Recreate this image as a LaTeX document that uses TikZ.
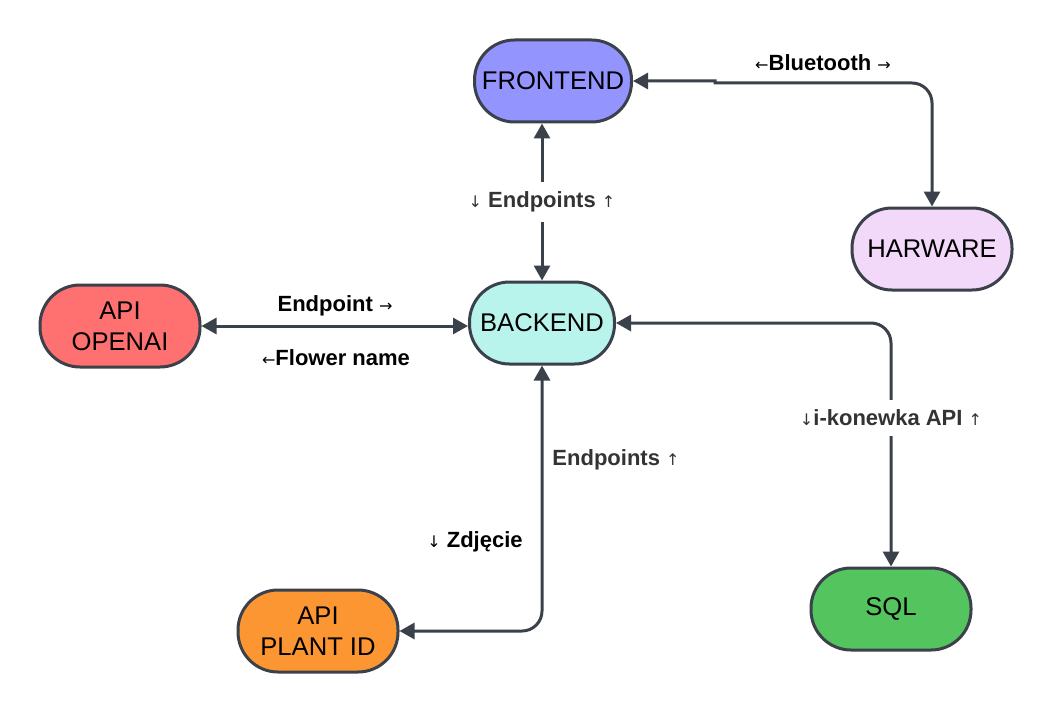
\documentclass[tikz,border=0pt]{standalone}
\usepackage{fontspec}
\setmainfont{Liberation Sans}
\newfontfamily\arrowfont{DejaVu Sans}
\usetikzlibrary{arrows.meta,calc}

\definecolor{edgegray}{HTML}{3A414A}
\definecolor{labelgray}{HTML}{333333}
\definecolor{frontblue}{HTML}{9494FF}
\definecolor{backcyan}{HTML}{B8F4EC}
\definecolor{hardlilac}{HTML}{F2D9FA}
\definecolor{openred}{HTML}{FF7070}
\definecolor{plantorange}{HTML}{FC9632}
\definecolor{sqlgreen}{HTML}{54C45E}

\newcommand{\arw}[1]{{\arrowfont\mdseries\fontsize{8}{10}\selectfont #1}}

\begin{document}
\begin{tikzpicture}[x=0.5pt,y=-0.5pt,
  box/.style={draw=edgegray,line width=1.5pt,rounded corners=20pt,
    minimum width=80pt,minimum height=41pt,inner sep=0pt,align=center,
    font=\fontsize{12.8}{15.5}\selectfont},
  link/.style={draw=edgegray,line width=1.5pt,
    {Triangle[length=7.5pt,width=8pt]}-{Triangle[length=7.5pt,width=8pt]}},
  tag/.style={font=\bfseries\fontsize{11}{13}\selectfont,inner sep=2pt},
  linetag/.style={tag,text=labelgray,fill=white,inner ysep=5pt}
]
\useasboundingbox (0,0) rectangle (1052,711);

% nodes
\node[box,fill=frontblue,minimum width=78.5pt] (Frontend) at (553,81) {FRONTEND};
\node[box,fill=backcyan,minimum width=72.5pt] (Backend) at (542,323) {BACKEND};
\node[box,fill=hardlilac] (Hardware) at (932,249) {HARWARE};
\node[box,fill=openred] (OpenAi) at (120,326) {API\\OPENAI};
\node[box,fill=plantorange] (PlantId) at (318,631) {API\\PLANT ID};
\node[box,fill=sqlgreen] (Sql) at (891,609) {SQL};

% connectors
\coordinate (BluetoothJog) at (715,83);
\draw[link] (Frontend.east) -- (BluetoothJog |- Frontend.east) -- (BluetoothJog)
  [rounded corners=10pt] -| (Hardware.north);
\draw[link] (Backend.north) -- (Backend.north |- Frontend.south)
  node[pos=0.5,linetag] (FrontTag) {\arw{↓} Endpoints \arw{↑}};
\draw[link] (OpenAi.east) -- (OpenAi.east -| Backend.west);
\draw[link,rounded corners=10pt] (Backend.east) -| (Sql.north);
\draw[link,rounded corners=10pt] (Backend.south) |- (PlantId.east);

% labels
\node[tag] (BluetoothTag) at (823,63) {\arw{←}Bluetooth \arw{→}};
\node[tag] (SendTag) at (335,306) {Endpoint \arw{→}};
\node[tag] (NameTag) at (336,358) {\arw{←}Flower name};
\node[linetag] (SqlTag) at (891,418) {\arw{↓}i-konewka API \arw{↑}};
\node[tag,text=labelgray] (PlantUpTag) at (616,460) {Endpoints \arw{↑}};
\node[tag] (PhotoTag) at (475,542) {\arw{↓} Zdjęcie};
\end{tikzpicture}
\end{document}
